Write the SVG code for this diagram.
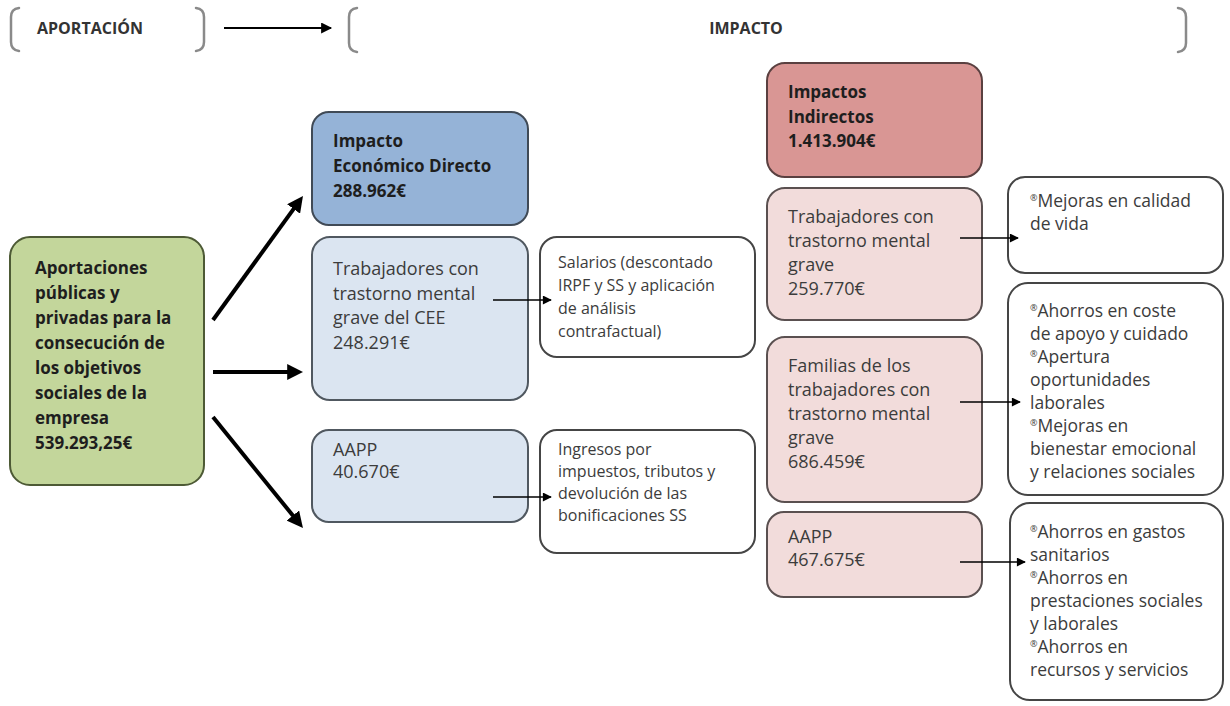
<svg xmlns="http://www.w3.org/2000/svg" width="1230" height="706" viewBox="0 0 1230 706">
<defs>
<style>
text{font-family:"Open Sans","Liberation Sans",sans-serif;}
.hd{font-size:16px;font-weight:bold;fill:#333;}
.b{font-size:17px;font-weight:bold;fill:#1e1e1e;}
.r{font-size:18px;fill:#3c3c3c;}
.m{font-size:16px;fill:#3c3c3c;}
.w{font-size:17.5px;fill:#3c3c3c;}
.bu{font-size:9px;}
.brk{fill:none;stroke:#8a8a8a;stroke-width:2.5;stroke-linecap:round;}
.green{fill:#c3d69b;stroke:#4d5a35;stroke-width:2;}
.blue{fill:#95b3d7;stroke:#404a56;stroke-width:2;}
.lblue{fill:#dbe5f1;stroke:#505860;stroke-width:2;}
.pink{fill:#d99694;stroke:#5a4040;stroke-width:2;}
.lpink{fill:#f2dcdb;stroke:#5a5050;stroke-width:2;}
.white{fill:#fff;stroke:#454545;stroke-width:2;}
.thick{stroke:#000;stroke-width:4;fill:none;marker-end:url(#ah);}
.thin{stroke:#000;stroke-width:1.5;fill:none;marker-end:url(#as);}
</style>
<marker id="ah" viewBox="0 0 10 10" refX="3" refY="5" markerWidth="4" markerHeight="4" orient="auto" markerUnits="strokeWidth">
<path d="M0,0 L10,5 L0,10 z" fill="#000"/>
</marker>
<marker id="as" viewBox="0 0 10 10" refX="9" refY="5" markerWidth="10" markerHeight="9" orient="auto" markerUnits="userSpaceOnUse">
<path d="M0,0 L10,5 L0,10 z" fill="#000"/>
</marker>
<marker id="ahdr" viewBox="0 0 10 10" refX="9" refY="5" markerWidth="12" markerHeight="11" orient="auto" markerUnits="userSpaceOnUse">
<path d="M0,0 L10,5 L0,10 z" fill="#000"/>
</marker>
</defs>
<rect width="1230" height="706" fill="#fff"/>

<g id="header">
<path class="brk" d="M19 8 Q11 9 11 17 L11 42 Q11 50 19 51"/>
<text class="hd" x="37" y="34">APORTACIÓN</text>
<path class="brk" d="M196 8 Q204 9 204 17 L204 42 Q204 50 196 51"/>
<line x1="224" y1="28" x2="331" y2="28" stroke="#000" stroke-width="2" marker-end="url(#ahdr)"/>
<path class="brk" d="M357 8 Q349 9 349 17 L349 43 Q349 51 357 52"/>
<text class="hd" x="746" y="34" text-anchor="middle">IMPACTO</text>
<path class="brk" d="M1178 8 Q1186 9 1186 17 L1186 43 Q1186 51 1178 52"/>
</g>

<g id="aportaciones">
<rect class="green" x="10" y="237" width="194" height="248" rx="20"/>
<text class="b" x="35" y="274">Aportaciones<tspan x="35" dy="25">públicas y</tspan><tspan x="35" dy="25">privadas para la</tspan><tspan x="35" dy="25">consecución de</tspan><tspan x="35" dy="25">los objetivos</tspan><tspan x="35" dy="25">sociales de la</tspan><tspan x="35" dy="25">empresa</tspan><tspan x="35" dy="25">539.293,25€</tspan></text>
</g>

<g id="impacto-directo">
<rect class="blue" x="312" y="112" width="216" height="113" rx="17"/>
<text class="b" x="333" y="147">Impacto<tspan x="333" dy="25">Económico Directo</tspan><tspan x="333" dy="25">288.962€</tspan></text>
</g>

<g id="trabajadores-cee">
<rect class="lblue" x="312" y="237" width="216" height="163" rx="18"/>
<text class="r" x="333" y="275">Trabajadores con<tspan x="333" dy="24.5">trastorno mental</tspan><tspan x="333" dy="24.5">grave del CEE</tspan><tspan x="333" dy="24.5">248.291€</tspan></text>
</g>

<g id="salarios">
<rect class="white" x="540" y="237" width="215" height="120" rx="17"/>
<text class="m" x="558" y="268">Salarios (descontado<tspan x="558" dy="23">IRPF y SS y aplicación</tspan><tspan x="558" dy="23">de análisis</tspan><tspan x="558" dy="23">contrafactual)</tspan></text>
</g>

<g id="aapp-directo">
<rect class="lblue" x="312" y="430" width="216" height="92" rx="17"/>
<text class="r" x="333" y="456">AAPP<tspan x="333" dy="22">40.670€</tspan></text>
</g>

<g id="ingresos">
<rect class="white" x="540" y="430" width="215" height="123" rx="17"/>
<text class="m" x="558" y="455">Ingresos por<tspan x="558" dy="22">impuestos, tributos y</tspan><tspan x="558" dy="22">devolución de las</tspan><tspan x="558" dy="22">bonificaciones SS</tspan></text>
</g>

<g id="impactos-indirectos">
<rect class="pink" x="767" y="63" width="215" height="114" rx="18"/>
<text class="b" x="788" y="98">Impactos<tspan x="788" dy="24.5">Indirectos</tspan><tspan x="788" dy="24.5">1.413.904€</tspan></text>
</g>

<g id="trabajadores-ind">
<rect class="lpink" x="767" y="188" width="215" height="132" rx="18"/>
<text class="r" x="788" y="223">Trabajadores con<tspan x="788" dy="24">trastorno mental</tspan><tspan x="788" dy="24">grave</tspan><tspan x="788" dy="24">259.770€</tspan></text>
</g>

<g id="calidad-vida">
<rect class="white" x="1008" y="177" width="215" height="96" rx="17"/>
<text class="w" x="1030" y="207"><tspan class="bu" baseline-shift="6">®</tspan><tspan>Mejoras en calidad</tspan><tspan x="1030" dy="23">de vida</tspan></text>
</g>

<g id="familias">
<rect class="lpink" x="767" y="337" width="215" height="165" rx="18"/>
<text class="r" x="788" y="372">Familias de los<tspan x="788" dy="24">trabajadores con</tspan><tspan x="788" dy="24">trastorno mental</tspan><tspan x="788" dy="24">grave</tspan><tspan x="788" dy="24">686.459€</tspan></text>
</g>

<g id="ahorros-familias">
<rect class="white" x="1008" y="283" width="215" height="212" rx="20"/>
<text class="w" x="1030" y="317"><tspan class="bu" baseline-shift="6">®</tspan><tspan>Ahorros en coste</tspan><tspan x="1030" dy="23">de apoyo y cuidado</tspan><tspan x="1030" dy="23" class="bu" baseline-shift="6">®</tspan><tspan>Apertura</tspan><tspan x="1030" dy="23">oportunidades</tspan><tspan x="1030" dy="23">laborales</tspan><tspan x="1030" dy="23" class="bu" baseline-shift="6">®</tspan><tspan>Mejoras en</tspan><tspan x="1030" dy="23">bienestar emocional</tspan><tspan x="1030" dy="23">y relaciones sociales</tspan></text>
</g>

<g id="aapp-indirecto">
<rect class="lpink" x="767" y="512" width="215" height="85" rx="17"/>
<text class="r" x="788" y="543">AAPP<tspan x="788" dy="23">467.675€</tspan></text>
</g>

<g id="ahorros-aapp">
<rect class="white" x="1010" y="503" width="213" height="197" rx="20"/>
<text class="w" x="1030" y="538"><tspan class="bu" baseline-shift="6">®</tspan><tspan>Ahorros en gastos</tspan><tspan x="1030" dy="23">sanitarios</tspan><tspan x="1030" dy="23" class="bu" baseline-shift="6">®</tspan><tspan>Ahorros en</tspan><tspan x="1030" dy="23">prestaciones sociales</tspan><tspan x="1030" dy="23">y laborales</tspan><tspan x="1030" dy="23" class="bu" baseline-shift="6">®</tspan><tspan>Ahorros en</tspan><tspan x="1030" dy="23">recursos y servicios</tspan></text>
</g>

<g id="connectors">
<line class="thick" x1="213" y1="320" x2="296.4" y2="205.1"/>
<line class="thick" x1="213" y1="372" x2="292" y2="372"/>
<line class="thick" x1="213" y1="417" x2="295.9" y2="519.3"/>
<line class="thin" x1="493" y1="300" x2="551" y2="300"/>
<line class="thin" x1="493" y1="497" x2="551" y2="497"/>
<line class="thin" x1="960" y1="238" x2="1018" y2="238"/>
<line class="thin" x1="960" y1="402" x2="1020" y2="402"/>
<line class="thin" x1="960" y1="562" x2="1025" y2="562"/>
</g>
</svg>
